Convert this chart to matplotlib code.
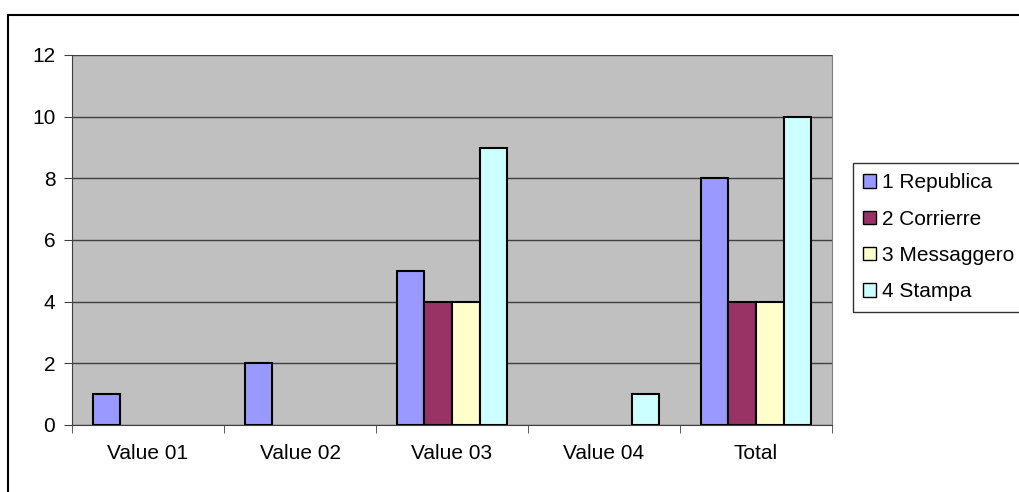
import numpy as np
import matplotlib.pyplot as plt
from matplotlib.patches import Rectangle

plt.rcParams["font.family"] = ["Liberation Sans", "DejaVu Sans"]

categories = ["Value 01", "Value 02", "Value 03", "Value 04", "Total"]
series_names = ["1 Republica", "2 Corrierre", "3 Messaggero", "4 Stampa"]
republica = [1, 2, 5, 0, 8]
corrierre = [0, 0, 4, 0, 4]
messaggero = [0, 0, 4, 0, 4]
stampa = [0, 0, 9, 1, 10]

colors = ["#9999FF", "#993366", "#FFFFCC", "#CCFFFF"]
all_series = [republica, corrierre, messaggero, stampa]

W, H = 1019, 492
fig = plt.figure(figsize=(W / 100, H / 100), dpi=100)

# outer chart frame (right/bottom run off the picture)
fig.patches.append(Rectangle((8 / W, -0.2), 2, 1.2 - 15 / H,
                             transform=fig.transFigure, fill=False,
                             edgecolor="black", linewidth=1.5))

ax = fig.add_axes([72 / W, 1 - 425 / H, (832 - 72) / W, (425 - 55) / H])
ax.set_facecolor("#C0C0C0")

x = np.arange(len(categories))
bar_w = 1 / 5.5
for i, (vals, name, col) in enumerate(zip(all_series, series_names, colors)):
    offs = (i - 1.5) * bar_w
    # zero values are not drawn, like Excel does
    heights = np.array(vals, dtype=float)
    heights[heights == 0] = np.nan
    ax.bar(x + offs, heights, width=bar_w, color=col, edgecolor="black",
           linewidth=1.5, label=name, zorder=3)

ax.set_xlim(-0.5, len(categories) - 0.5)
ax.set_ylim(0, 12)
ax.set_yticks(range(0, 13, 2))
ax.yaxis.grid(True, color="#404040", linewidth=1.0, zorder=1)

ax.set_xticks(x)
ax.set_xticklabels(categories, fontsize=15)
ax.set_xticks(np.arange(-0.5, len(categories), 1), minor=True)
ax.tick_params(axis="x", which="major", length=0, pad=14)
ax.tick_params(axis="x", which="minor", length=6, color="#404040", direction="out")
ax.tick_params(axis="y", labelsize=15, length=6, color="#404040", pad=6)

ax.spines["right"].set_color("#808080")
ax.spines["left"].set_color("#404040")
ax.spines["bottom"].set_color("#404040")
ax.spines["top"].set_visible(False)

leg = ax.legend(loc="upper left", bbox_to_anchor=(853 / W, 1 - 163 / H),
                bbox_transform=fig.transFigure, fontsize=15, frameon=True,
                fancybox=False, edgecolor="black", handlelength=0.6,
                handleheight=0.6, handletextpad=0.3, labelspacing=0.83,
                borderpad=0.5, borderaxespad=0)
leg.get_frame().set_linewidth(1.0)
for h in leg.legend_handles:
    h.set_linewidth(1.0)

fig.savefig("out.png", dpi=100)
